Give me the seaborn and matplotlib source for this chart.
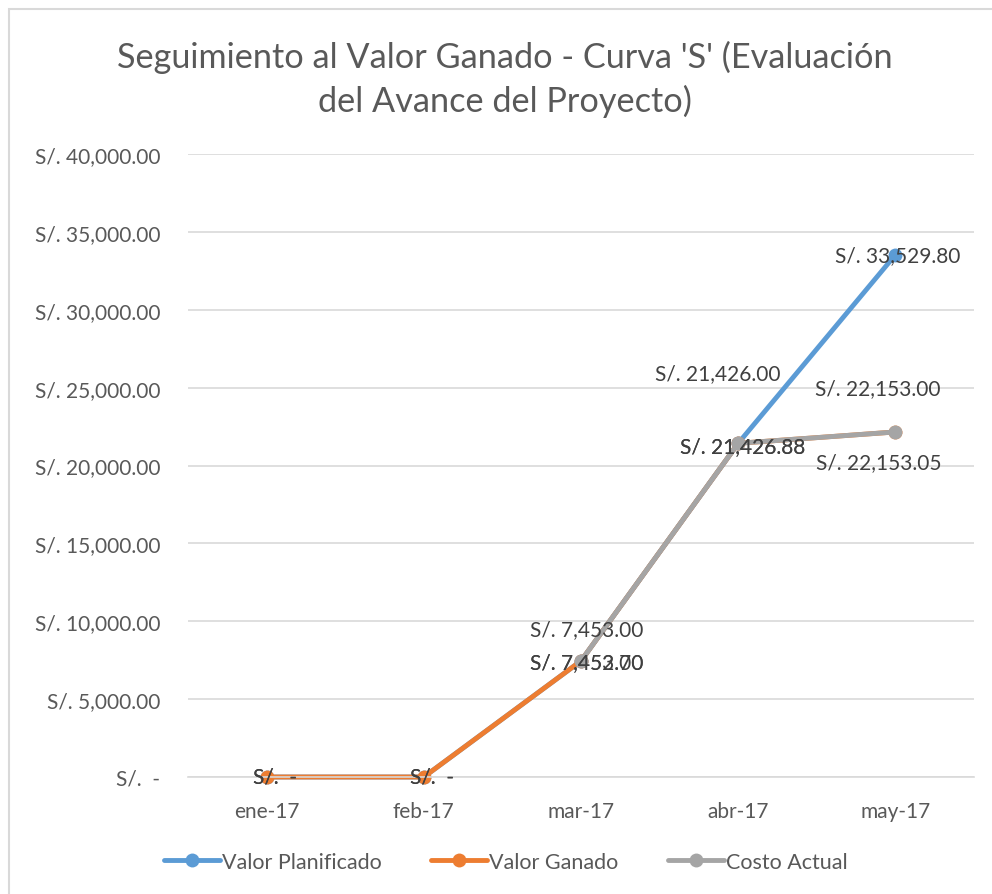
import matplotlib
matplotlib.use("Agg")
import matplotlib.pyplot as plt
import matplotlib.patches as mpatches
from matplotlib.lines import Line2D
import seaborn as sns
import pandas as pd
import numpy as np

# ---- data ----
months = ["ene-17", "feb-17", "mar-17", "abr-17", "may-17"]
valor_planificado = [0.0, 0.0, 7453.00, 21426.00, 33529.80]
valor_ganado = [0.0, 0.0, 7452.70, 21426.88, 22153.05]
costo_actual = [np.nan, np.nan, 7453.00, 21426.88, 22153.00]
series_names = ["Valor Planificado", "Valor Ganado", "Costo Actual"]
series_values = [valor_planificado, valor_ganado, costo_actual]
y_ticks = [0, 5000, 10000, 15000, 20000, 25000, 30000, 35000, 40000]

colors = ["#5B9BD5", "#ED7D31", "#A5A5A5"]
# label offsets in pixels (dx, dy) per series per point (styling only)
label_offsets = [
    [(8, 0), (8, 0), (6, 32), (-20, 70), (2, 0)],
    [(8, 0), (8, 0), (6, -1), (4, -3), (-17, -30)],
    [(8, 0), (8, 0), (6, -1), (4, -3), (-18, 44)],
]

sns.set_theme(style="white")
plt.rcParams["font.family"] = ["Lato", "DejaVu Sans"]
FS = 15

rows = []
for name, vals in zip(series_names, series_values):
    for i, v in enumerate(vals):
        rows.append({"idx": i, "mes": months[i], "valor": v, "serie": name})
df = pd.DataFrame(rows)

fig = plt.figure(figsize=(9.92, 8.95), dpi=100)
ax = fig.add_axes([188 / 992, 1 - 778 / 895, 786 / 992, (778 - 155) / 895])

sns.lineplot(data=df.dropna(), x="idx", y="valor", hue="serie", hue_order=series_names,
             palette=colors, marker="o", markersize=10, markeredgewidth=0,
             linewidth=3.5, ax=ax, legend=False, sort=False)
for ln in ax.lines:
    ln.set_clip_on(False)

ax.set_xlim(-0.5, 4.5)
ax.set_ylim(0, 40000)
ax.set_yticks(y_ticks)
def fmt(v):
    if v == 0:
        return "S/.  -"
    return "S/. {:,.2f}".format(v)
ax.set_yticklabels([fmt(v) for v in y_ticks])
ax.set_xticks(range(len(months)))
ax.set_xticklabels(months)
ax.set_xlabel("")
ax.set_ylabel("")
ax.grid(axis="y", color="#D9D9D9", linewidth=1.2)
ax.set_axisbelow(True)
for s in ["top", "right", "left"]:
    ax.spines[s].set_visible(False)
ax.spines["bottom"].set_color("#D9D9D9")
ax.spines["bottom"].set_linewidth(1.2)
ax.tick_params(axis="y", length=0, pad=20, labelsize=FS, labelcolor="#595959")
ax.tick_params(axis="x", length=0, pad=17, labelsize=FS, labelcolor="#595959")

# data labels
for si, (name, vals) in enumerate(zip(series_names, series_values)):
    for i, v in enumerate(vals):
        if np.isnan(v):
            continue
        dx, dy = label_offsets[si][i]
        ax.annotate(fmt(v), xy=(i, v), xytext=(dx * 0.72, dy * 0.72),
                    textcoords="offset points", ha="center", va="center",
                    fontsize=FS, color="#404040", annotation_clip=False)

fig.text(0.509, 1 - 57 / 895, "Seguimiento al Valor Ganado - Curva 'S' (Evaluación",
         ha="center", va="center", fontsize=24.7, color="#595959")
fig.text(0.509, 1 - 101 / 895, "del Avance del Proyecto)",
         ha="center", va="center", fontsize=24.7, color="#595959")

handles = [Line2D([0], [0], color=c, lw=3.5, marker="o", markersize=10, markeredgewidth=0)
           for c in colors]
fig.legend(handles, series_names, loc="center", bbox_to_anchor=(0.51, 1 - 863 / 895),
           ncol=3, frameon=False, fontsize=15.5, labelcolor="#595959",
           handlelength=2.6, handletextpad=0.1, columnspacing=2.3)

border = mpatches.Rectangle((9 / 992, -0.1), 1.2, 1 - 10 / 895 + 0.1, transform=fig.transFigure,
                            fill=False, edgecolor="#D9D9D9", linewidth=1.5)
fig.patches.append(border)

fig.savefig("out.png", dpi=100)
